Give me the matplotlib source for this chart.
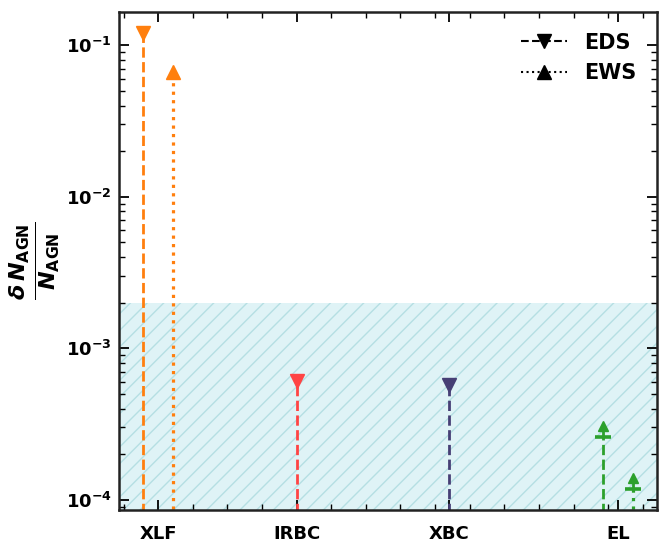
import matplotlib
matplotlib.use('Agg')
import numpy as np
import matplotlib.pyplot as plt
from matplotlib.ticker import AutoMinorLocator

# categories and where they sit on the x axis
categories = ['XLF', 'IRBC', 'XBC', 'EL']
cat_pos = [0.0, 1.0, 2.103, 3.32]
colors = ['#ff7f0e', '#ff4444', '#463f75', '#2ca02c']

# delta N / N for the two surveys (None = not shown)
eds_vals = [0.12, 6.1e-4, 5.7e-4, 2.6e-4]
ews_vals = [0.067, None, None, 1.18e-4]
# which categories are lower limits
is_limit = [False, False, False, True]

shade_top = 2e-3
dx = 0.11
arrow_fac = 1.18


def draw_point(x, y, c, mark, ls, lw):
    ax.vlines(x, ylo * 0.5, y, colors=c, linestyles=ls, lw=lw, zorder=2)
    if mark == 'limit':
        # lower limit: cap bar + short stem + arrow head
        ax.plot([x, x], [y, y * arrow_fac], color=c, lw=2, zorder=3)
        ax.plot(x, y, '_', color=c, ms=12, mew=2.6, zorder=3)
        ax.plot(x, y * arrow_fac, '^', color=c, ms=7.5, zorder=3)
    else:
        ax.plot(x, y, mark, color=c, ms=10, zorder=3)


fig = plt.figure(figsize=(6.6, 5.42), dpi=100)
ax = fig.add_axes([0.180, 0.059, 0.8155, 0.919])
ax.set_yscale('log')
ylo, yhi = 8.55e-5, 0.166
ax.set_ylim(ylo, yhi)
ax.set_xlim(-0.284, 3.603)

# shaded, hatched band
plt.rcParams['hatch.linewidth'] = 1.0
ax.axhspan(ylo * 0.5, shade_top, facecolor='#dff3f6', edgecolor='#b5dfe3',
           hatch='//', linewidth=0, zorder=0)

for i, xc in enumerate(cat_pos):
    c = colors[i]
    has_ews = ews_vals[i] is not None
    x_eds = xc - dx if has_ews else xc
    draw_point(x_eds, eds_vals[i], c, 'limit' if is_limit[i] else 'v', '--', 2.0)
    if has_ews:
        draw_point(xc + dx, ews_vals[i], c, 'limit' if is_limit[i] else '^', ':', 2.3)

# legend handles
ax.plot([], [], 'v', ls='--', color='k', ms=10, lw=1.5, label='EDS')
ax.plot([], [], '^', ls=':', color='k', ms=10, lw=1.5, label='EWS')
leg = ax.legend(loc='upper right', frameon=False, prop={'weight': 'bold', 'size': 15},
                handlelength=2.2, borderaxespad=0.6)

ax.set_xticks(cat_pos)
ax.set_xticklabels(categories, fontweight='bold', fontsize=13)
ax.xaxis.set_minor_locator(AutoMinorLocator(4))
ax.tick_params(which='both', direction='in', top=True, right=True)
ax.tick_params(which='major', length=7, width=1.3)
ax.tick_params(which='minor', length=4, width=1.0)
ax.tick_params(axis='x', which='major', pad=11)
ax.tick_params(axis='y', which='major', labelsize=13, pad=5)
for lab in ax.get_yticklabels():
    lab.set_fontweight('bold')
for sp in ax.spines.values():
    sp.set_linewidth(1.8)
    sp.set_color('#222222')

ax.set_ylabel(r'$\frac{\boldsymbol{\delta\,N}_{\mathbf{AGN}}}{\boldsymbol{N}_{\mathbf{AGN}}}$',
              fontsize=23, labelpad=2.5)

plt.savefig('out.png', dpi=100)
